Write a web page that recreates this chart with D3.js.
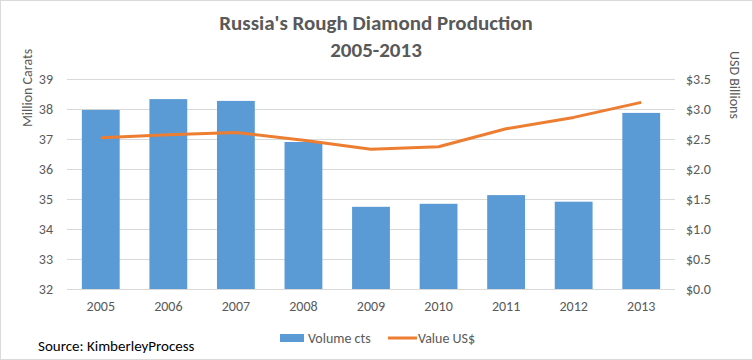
<!DOCTYPE html>
<html><head><meta charset="utf-8">
<script src="https://cdn.jsdelivr.net/npm/d3@7"></script>
<style>body{margin:0;background:#fff}text{font-family:Carlito,Calibri,Lato,sans-serif}</style>
</head><body><svg id="c" width="753" height="360"></svg>
<script>
const years = ["2005","2006","2007","2008","2009","2010","2011","2012","2013"];
const volume = [37.97, 38.33, 38.27, 36.9, 34.74, 34.84, 35.13, 34.91, 37.87];
const value = [2.52, 2.57, 2.61, 2.48, 2.33, 2.37, 2.67, 2.86, 3.11];
const leftTicks = [32,33,34,35,36,37,38,39];
const rightTicks = [0,0.5,1,1.5,2,2.5,3,3.5];

const svg = d3.select("#c");
const W=753,H=360;
const FF="Carlito,Calibri,Lato,sans-serif";
svg.append("rect").attr("x",0.5).attr("y",0.5).attr("width",W-1).attr("height",H-1).attr("fill","#fff").attr("stroke","#d9d9d9");
const x0=67,x1=675,yTop=79,yBot=289;
const x = d3.scaleBand().domain(years).range([x0,x1]).paddingInner(0.44).paddingOuter(0.22);
const yL = d3.scaleLinear().domain([32,39]).range([yBot,yTop]);
const yR = d3.scaleLinear().domain([0,3.5]).range([yBot,yTop]);
const grey="#595959";
// gridlines
svg.append("g").selectAll("line").data(leftTicks).join("line")
 .attr("x1",x0).attr("x2",x1).attr("y1",d=>Math.round(yL(d))+0.5).attr("y2",d=>Math.round(yL(d))+0.5)
 .attr("stroke","#d9d9d9").attr("stroke-width",1);
// bars
svg.append("g").selectAll("rect").data(years).join("rect")
 .attr("x",d=>x(d)).attr("width",x.bandwidth())
 .attr("y",(d,i)=>yL(volume[i])).attr("height",(d,i)=>yBot-yL(volume[i]))
 .attr("fill","#5b9bd5");
// line
const line=d3.line().x((d,i)=>x(years[i])+x.bandwidth()/2).y(d=>yR(d));
svg.append("path").datum(value).attr("d",line).attr("fill","none").attr("stroke","#ed7d31").attr("stroke-width",3).attr("stroke-linejoin","round");
// left axis
const la=svg.append("g").attr("transform",`translate(${x0-14},0)`).call(d3.axisLeft(yL).tickValues(leftTicks).tickSize(0).tickPadding(0).tickFormat(d3.format("d")));
la.select(".domain").remove();
la.selectAll("text").attr("fill",grey).style("font-size","14px").style("font-family",FF);
// right axis
const ra=svg.append("g").attr("transform",`translate(${x1+11},0)`).call(d3.axisRight(yR).tickValues(rightTicks).tickSize(0).tickPadding(0).tickFormat(d=>"$"+d3.format(".1f")(d)));
ra.select(".domain").remove();
ra.selectAll("text").attr("fill",grey).style("font-size","14px").style("font-family",FF);
// x axis
const xa=svg.append("g").attr("transform",`translate(0,${yBot+12})`).call(d3.axisBottom(x).tickSize(0).tickPadding(0));
xa.select(".domain").remove();
xa.selectAll("text").attr("fill",grey).attr("dy","0.71em").style("font-size","14px").style("font-family",FF);
// titles
svg.append("text").attr("x",376).attr("y",30).attr("text-anchor","middle").attr("fill",grey).style("font-size","21px").style("font-weight","bold").text("Russia's Rough Diamond Production");
svg.append("text").attr("x",376).attr("y",57).attr("text-anchor","middle").attr("fill",grey).style("font-size","21px").style("font-weight","bold").text("2005-2013");
svg.append("text").attr("transform","translate(32,88) rotate(-90)").attr("text-anchor","middle").attr("fill",grey).style("font-size","14px").text("Million Carats");
svg.append("text").attr("transform","translate(730,85) rotate(90)").attr("text-anchor","middle").attr("fill",grey).style("font-size","14px").text("USD Billions");
// legend
svg.append("rect").attr("x",280).attr("y",334).attr("width",24).attr("height",8).attr("fill","#5b9bd5");
svg.append("text").attr("x",308).attr("y",343).attr("fill",grey).style("font-size","14px").text("Volume cts");
svg.append("line").attr("x1",388).attr("x2",417).attr("y1",338).attr("y2",338).attr("stroke","#ed7d31").attr("stroke-width",3);
svg.append("text").attr("x",418).attr("y",343).attr("fill",grey).style("font-size","14px").text("Value US$");
svg.append("text").attr("x",38).attr("y",351).attr("fill","#000").style("font-size","15px").text("Source: KimberleyProcess");
</script></body></html>
